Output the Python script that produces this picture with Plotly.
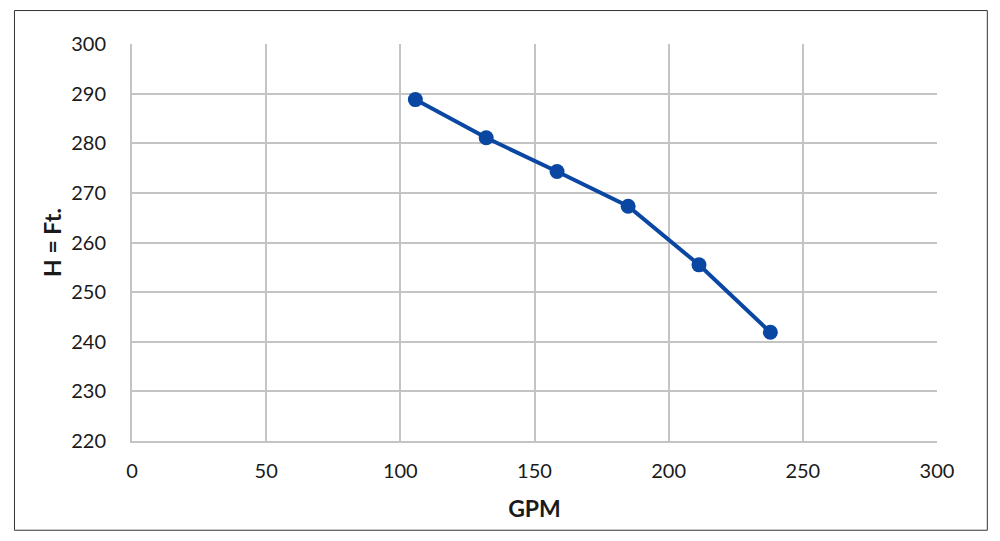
import plotly.graph_objects as go

gpm = [105.6, 132.0, 158.4, 184.9, 211.3, 237.9]
head_ft = [288.8, 281.1, 274.3, 267.3, 255.5, 241.9]

x_title = "GPM"
y_title = "H = Ft."

blue = "#0a47a3"
grid = "#c4c4c4"
font_family = "Lato, 'Open Sans', sans-serif"

fig = go.Figure()
fig.add_trace(go.Scatter(
    x=gpm, y=head_ft, mode="lines+markers",
    line=dict(color=blue, width=4),
    marker=dict(color=blue, size=15),
    showlegend=False,
))

fig.update_layout(
    width=1000, height=541,
    margin=dict(l=124, r=71, t=36, b=108),
    paper_bgcolor="white", plot_bgcolor="white",
    font=dict(family=font_family, size=20, color="#1a1a1a"),
    shapes=[dict(type="rect", xref="paper", yref="paper",
                 x0=-0.146, x1=1.0625, y0=-0.2248, y1=1.0843,
                 line=dict(color="#333333", width=1), layer="below")],
)
fig.update_xaxes(
    range=[0, 300], tickvals=[0, 50, 100, 150, 200, 250, 300],
    showgrid=True, gridcolor=grid, gridwidth=2,
    showline=True, linecolor=grid, linewidth=2,
    zeroline=False, ticks="", ticklabelstandoff=11,
    title=dict(text="<b>" + x_title + "</b>", font=dict(size=23), standoff=20),
)
fig.update_yaxes(
    range=[220, 300], tickvals=[220, 230, 240, 250, 260, 270, 280, 290, 300],
    showgrid=True, gridcolor=grid, gridwidth=2,
    showline=True, linecolor=grid, linewidth=2,
    zeroline=False, ticks="", ticklabelstandoff=20,
    title=dict(text="<b>" + y_title + "</b>", font=dict(size=23), standoff=3),
)

fig.write_html("out.html")
